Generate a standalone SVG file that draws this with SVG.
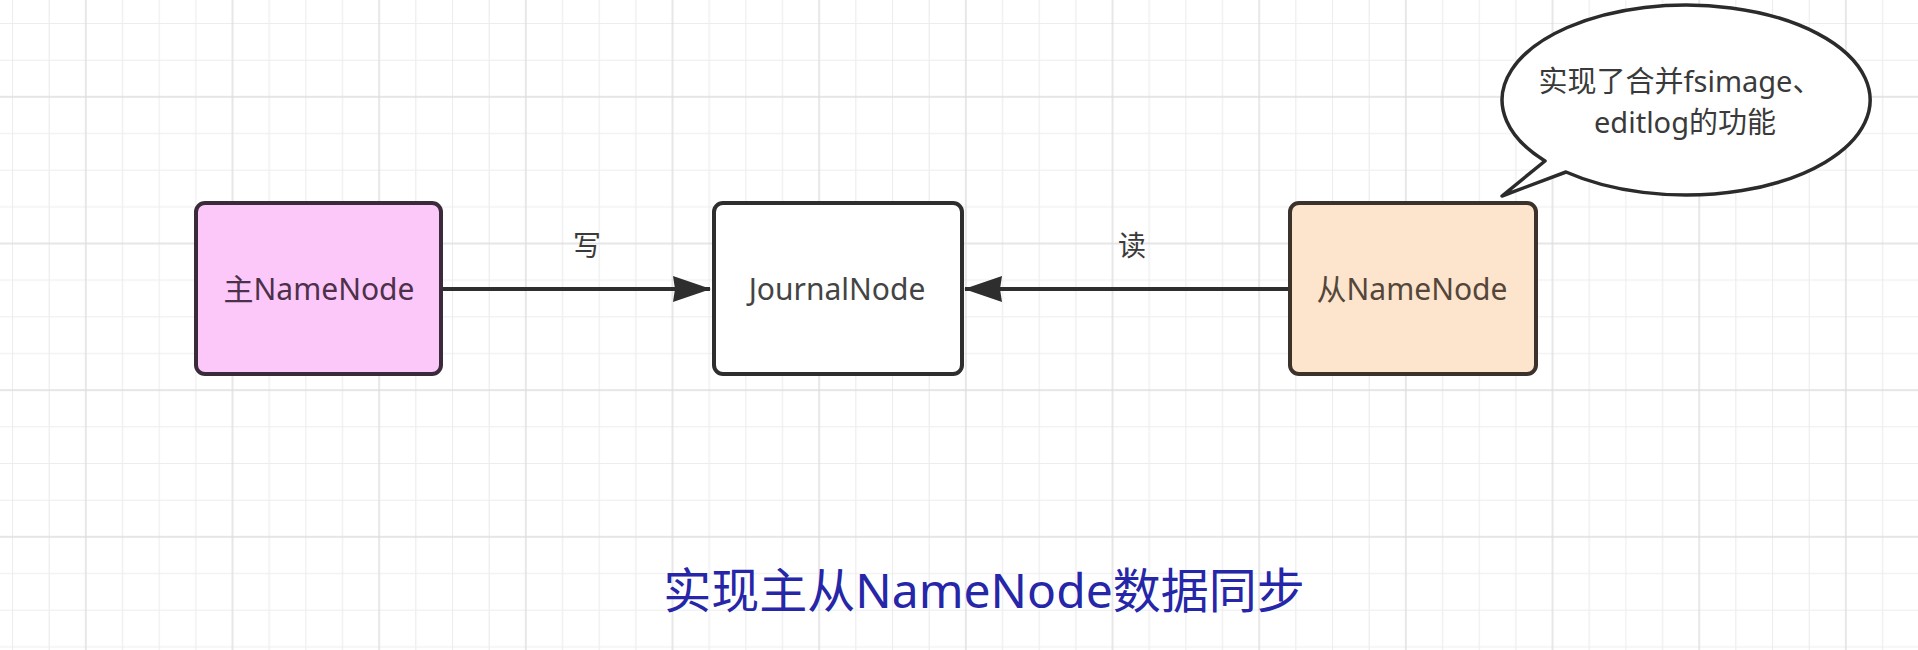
<svg xmlns="http://www.w3.org/2000/svg" width="1918" height="650" viewBox="0 0 1918 650">
<defs>
<pattern id="grid" patternUnits="userSpaceOnUse" x="12" y="23" width="146.67" height="146.67">
<path d="M0.5,0V146.67M37.17,0V146.67M110.5,0V146.67M0,0.5H146.67M0,37.17H146.67M0,110.5H146.67" stroke="#ededed" stroke-width="1.2" fill="none"/>
<path d="M73.83,0V146.67M0,73.83H146.67" stroke="#dedede" stroke-width="1.4" fill="none"/>
</pattern>
<marker id="arrow" viewBox="0 0 38 26" refX="37" refY="13" markerWidth="38" markerHeight="26" markerUnits="userSpaceOnUse" orient="auto">
<path d="M0,0 L38,13 L0,26 L2,13 Z" fill="#2e2e2e"/>
</marker>
<style>
.box{stroke-width:4;}
.lbl{font-family:"Noto Sans","Noto Sans CJK SC",sans-serif;font-size:30px;text-anchor:middle;}
.edge{stroke:#2e2e2e;stroke-width:4;fill:none;}
.elbl{font-family:"Noto Sans CJK SC","Noto Sans",sans-serif;font-size:28px;fill:#3a3a3a;text-anchor:middle;}
</style>
</defs>
<rect width="1918" height="650" fill="#ffffff"/>
<rect width="1918" height="650" fill="url(#grid)"/>

<g id="connectors">
<path class="edge" d="M441,289 H710" marker-end="url(#arrow)"/>
<path class="edge" d="M1289,289 H965" marker-end="url(#arrow)"/>
<text class="elbl" x="587" y="256">写</text>
<text class="elbl" x="1132" y="256">读</text>
</g>

<g id="node-master">
<rect class="box" x="196" y="203" width="245" height="171" rx="9" fill="#fcc8fa" stroke="#3a2b3a"/>
<text class="lbl" x="319" y="300" fill="#4d3049">主NameNode</text>
</g>

<g id="node-journal">
<rect class="box" x="714" y="203" width="248" height="171" rx="9" fill="#ffffff" stroke="#2e2e2e"/>
<text class="lbl" x="837" y="300" fill="#444444">JournalNode</text>
</g>

<g id="node-standby">
<rect class="box" x="1290" y="203" width="246" height="171" rx="9" fill="#fde4cc" stroke="#3a322b"/>
<text class="lbl" x="1412" y="300" fill="#54463a">从NameNode</text>
</g>

<g id="callout">
<path d="M1545,161 L1502,196 L1566,172 A184,95 0 1 0 1545,161 Z" fill="#ffffff" stroke="#2b2b2b" stroke-width="3.5" stroke-linejoin="round"/>
<text x="1680" y="92" font-family="Noto Sans, Noto Sans CJK SC, sans-serif" font-size="29" fill="#3a3a3a" text-anchor="middle">实现了合并fsimage、</text>
<text x="1685" y="133" font-family="Noto Sans, Noto Sans CJK SC, sans-serif" font-size="29" fill="#3a3a3a" text-anchor="middle">editlog的功能</text>
</g>

<g id="title">
<text x="984" y="608" font-family="Noto Sans, Noto Sans CJK SC, sans-serif" font-size="48" fill="#2626a8" text-anchor="middle">实现主从NameNode数据同步</text>
</g>
</svg>
